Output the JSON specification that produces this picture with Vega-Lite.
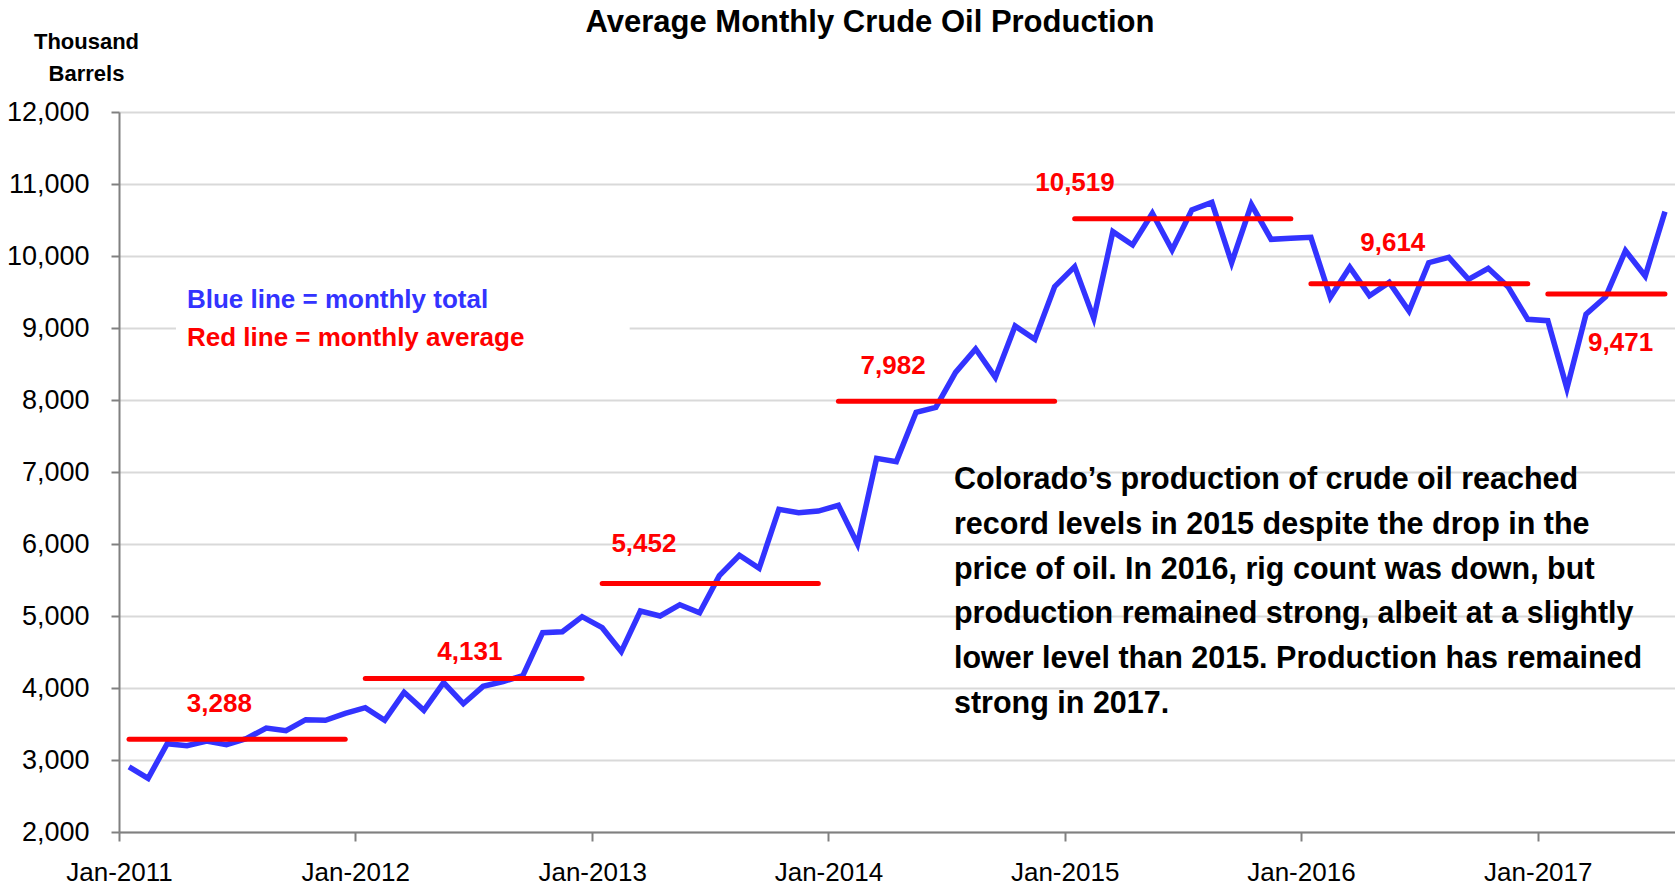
{
  "$schema": "https://vega.github.io/schema/vega-lite/v6.json",
  "autosize": {"type": "none"},
  "width": 1556,
  "height": 720,
  "padding": {"left": 119, "top": 112, "right": 0, "bottom": 55},
  "background": "white",
  "config": {
    "view": {"stroke": null},
    "font": "Liberation Sans",
    "axis": {"labelFont": "Liberation Sans", "titleFont": "Liberation Sans"}
  },
  "title": {
    "text": "Average Monthly Crude Oil Production",
    "font": "Liberation Sans",
    "fontSize": 31,
    "fontWeight": "bold",
    "color": "black",
    "anchor": "middle",
    "frame": "group",
    "dx": -27,
    "baseline": "alphabetic",
    "offset": -33
  },
  "datasets": {
    "monthly": [
      {"month": "2011-01", "year": 2011, "total": 2903, "avg": 3288},
      {"month": "2011-02", "year": 2011, "total": 2745, "avg": 3288},
      {"month": "2011-03", "year": 2011, "total": 3227, "avg": 3288},
      {"month": "2011-04", "year": 2011, "total": 3199, "avg": 3288},
      {"month": "2011-05", "year": 2011, "total": 3264, "avg": 3288},
      {"month": "2011-06", "year": 2011, "total": 3213, "avg": 3288},
      {"month": "2011-07", "year": 2011, "total": 3296, "avg": 3288},
      {"month": "2011-08", "year": 2011, "total": 3444, "avg": 3288},
      {"month": "2011-09", "year": 2011, "total": 3407, "avg": 3288},
      {"month": "2011-10", "year": 2011, "total": 3560, "avg": 3288},
      {"month": "2011-11", "year": 2011, "total": 3551, "avg": 3288},
      {"month": "2011-12", "year": 2011, "total": 3648, "avg": 3288},
      {"month": "2012-01", "year": 2012, "total": 3727, "avg": 4131},
      {"month": "2012-02", "year": 2012, "total": 3551, "avg": 4131},
      {"month": "2012-03", "year": 2012, "total": 3940, "avg": 4131},
      {"month": "2012-04", "year": 2012, "total": 3690, "avg": 4131},
      {"month": "2012-05", "year": 2012, "total": 4074, "avg": 4131},
      {"month": "2012-06", "year": 2012, "total": 3782, "avg": 4131},
      {"month": "2012-07", "year": 2012, "total": 4023, "avg": 4131},
      {"month": "2012-08", "year": 2012, "total": 4090, "avg": 4131},
      {"month": "2012-09", "year": 2012, "total": 4173, "avg": 4131},
      {"month": "2012-10", "year": 2012, "total": 4769, "avg": 4131},
      {"month": "2012-11", "year": 2012, "total": 4782, "avg": 4131},
      {"month": "2012-12", "year": 2012, "total": 4991, "avg": 4131},
      {"month": "2013-01", "year": 2013, "total": 4838, "avg": 5452},
      {"month": "2013-02", "year": 2013, "total": 4505, "avg": 5452},
      {"month": "2013-03", "year": 2013, "total": 5069, "avg": 5452},
      {"month": "2013-04", "year": 2013, "total": 5000, "avg": 5452},
      {"month": "2013-05", "year": 2013, "total": 5157, "avg": 5452},
      {"month": "2013-06", "year": 2013, "total": 5046, "avg": 5452},
      {"month": "2013-07", "year": 2013, "total": 5560, "avg": 5452},
      {"month": "2013-08", "year": 2013, "total": 5843, "avg": 5452},
      {"month": "2013-09", "year": 2013, "total": 5662, "avg": 5452},
      {"month": "2013-10", "year": 2013, "total": 6481, "avg": 5452},
      {"month": "2013-11", "year": 2013, "total": 6435, "avg": 5452},
      {"month": "2013-12", "year": 2013, "total": 6458, "avg": 5452},
      {"month": "2014-01", "year": 2014, "total": 6537, "avg": 7982},
      {"month": "2014-02", "year": 2014, "total": 6000, "avg": 7982},
      {"month": "2014-03", "year": 2014, "total": 7190, "avg": 7982},
      {"month": "2014-04", "year": 2014, "total": 7144, "avg": 7982},
      {"month": "2014-05", "year": 2014, "total": 7829, "avg": 7982},
      {"month": "2014-06", "year": 2014, "total": 7898, "avg": 7982},
      {"month": "2014-07", "year": 2014, "total": 8384, "avg": 7982},
      {"month": "2014-08", "year": 2014, "total": 8708, "avg": 7982},
      {"month": "2014-09", "year": 2014, "total": 8315, "avg": 7982},
      {"month": "2014-10", "year": 2014, "total": 9028, "avg": 7982},
      {"month": "2014-11", "year": 2014, "total": 8843, "avg": 7982},
      {"month": "2014-12", "year": 2014, "total": 9574, "avg": 7982},
      {"month": "2015-01", "year": 2015, "total": 9852, "avg": 10519},
      {"month": "2015-02", "year": 2015, "total": 9134, "avg": 10519},
      {"month": "2015-03", "year": 2015, "total": 10338, "avg": 10519},
      {"month": "2015-04", "year": 2015, "total": 10153, "avg": 10519},
      {"month": "2015-05", "year": 2015, "total": 10593, "avg": 10519},
      {"month": "2015-06", "year": 2015, "total": 10083, "avg": 10519},
      {"month": "2015-07", "year": 2015, "total": 10639, "avg": 10519},
      {"month": "2015-08", "year": 2015, "total": 10745, "avg": 10519},
      {"month": "2015-09", "year": 2015, "total": 9907, "avg": 10519},
      {"month": "2015-10", "year": 2015, "total": 10715, "avg": 10519},
      {"month": "2015-11", "year": 2015, "total": 10231, "avg": 10519},
      {"month": "2015-12", "year": 2015, "total": 10245, "avg": 10519},
      {"month": "2016-01", "year": 2016, "total": 10259, "avg": 9614},
      {"month": "2016-02", "year": 2016, "total": 9426, "avg": 9614},
      {"month": "2016-03", "year": 2016, "total": 9843, "avg": 9614},
      {"month": "2016-04", "year": 2016, "total": 9449, "avg": 9614},
      {"month": "2016-05", "year": 2016, "total": 9634, "avg": 9614},
      {"month": "2016-06", "year": 2016, "total": 9236, "avg": 9614},
      {"month": "2016-07", "year": 2016, "total": 9907, "avg": 9614},
      {"month": "2016-08", "year": 2016, "total": 9981, "avg": 9614},
      {"month": "2016-09", "year": 2016, "total": 9676, "avg": 9614},
      {"month": "2016-10", "year": 2016, "total": 9829, "avg": 9614},
      {"month": "2016-11", "year": 2016, "total": 9574, "avg": 9614},
      {"month": "2016-12", "year": 2016, "total": 9120, "avg": 9614},
      {"month": "2017-01", "year": 2017, "total": 9102, "avg": 9471},
      {"month": "2017-02", "year": 2017, "total": 8162, "avg": 9471},
      {"month": "2017-03", "year": 2017, "total": 9190, "avg": 9471},
      {"month": "2017-04", "year": 2017, "total": 9435, "avg": 9471},
      {"month": "2017-05", "year": 2017, "total": 10074, "avg": 9471},
      {"month": "2017-06", "year": 2017, "total": 9722, "avg": 9471},
      {"month": "2017-07", "year": 2017, "total": 10616, "avg": 9471}
    ],
    "labels": [
      {"date": "2011-06-05", "value": 3778, "label": "3,288"},
      {"date": "2012-06-26", "value": 4500, "label": "4,131"},
      {"date": "2013-03-22", "value": 6000, "label": "5,452"},
      {"date": "2014-04-11", "value": 8472, "label": "7,982"},
      {"date": "2015-01-17", "value": 11014, "label": "10,519"},
      {"date": "2016-05-22", "value": 10181, "label": "9,614"},
      {"date": "2017-05-09", "value": 8792, "label": "9,471"}
    ],
    "notes": [
      {"date": "2011-04-16", "value": 9389, "note": "Blue line = monthly total", "series": "total"},
      {"date": "2011-04-16", "value": 8861, "note": "Red line = monthly average", "series": "average"}
    ],
    "notebox": [
      {"start": "2011-03-30", "end": "2013-02-28", "low": 8950, "high": 9050}
    ],
    "comment": [
      {"date": "2014-07-14", "value": 6889}
    ]
  },
  "layer": [
    {
      "data": {"name": "notebox"},
      "mark": {"type": "rect", "color": "white"},
      "encoding": {
        "x": {
          "field": "start", "type": "temporal",
          "scale": {"type": "utc", "domain": [{"year": 2011, "month": 1, "date": 1, "utc": true}, {"year": 2017, "month": 8, "date": 1, "utc": true}]},
          "axis": {
            "title": null,
            "values": [
              {"year": 2011, "month": 1, "date": 1, "utc": true},
              {"year": 2012, "month": 1, "date": 1, "utc": true},
              {"year": 2013, "month": 1, "date": 1, "utc": true},
              {"year": 2014, "month": 1, "date": 1, "utc": true},
              {"year": 2015, "month": 1, "date": 1, "utc": true},
              {"year": 2016, "month": 1, "date": 1, "utc": true},
              {"year": 2017, "month": 1, "date": 1, "utc": true}
            ],
            "format": "%b-%Y",
            "grid": false,
            "domainColor": "#808080",
            "domainWidth": 2,
            "tickColor": "#808080",
            "tickWidth": 2,
            "tickSize": 9,
            "labelFontSize": 26,
            "labelColor": "black",
            "labelPadding": 18,
            "labelFlush": false,
            "labelOverlap": false
          }
        },
        "x2": {"field": "end"},
        "y": {
          "field": "low", "type": "quantitative",
          "scale": {"domain": [2000, 12000], "nice": false, "zero": false},
          "axis": {
            "title": ["Thousand", "Barrels"],
            "titleAngle": 0,
            "titleFontSize": 22,
            "titleFontWeight": "bold",
            "titleColor": "black",
            "titleAlign": "center",
            "titleBaseline": "middle",
            "titleLineHeight": 32,
            "titleX": -33,
            "titleY": -71,
            "values": [2000, 3000, 4000, 5000, 6000, 7000, 8000, 9000, 10000, 11000, 12000],
            "format": ",d",
            "grid": true,
            "gridColor": "#D9D9D9",
            "gridWidth": 2,
            "domainColor": "#808080",
            "domainWidth": 2,
            "tickColor": "#808080",
            "tickWidth": 2,
            "tickSize": 8,
            "labelFontSize": 27,
            "labelColor": "black",
            "labelPadding": 22
          }
        },
        "y2": {"field": "high"}
      }
    },
    {
      "data": {"name": "monthly"},
      "mark": {"type": "line", "color": "#3333FF", "strokeWidth": 5.5, "strokeJoin": "miter"},
      "encoding": {
        "x": {"field": "month", "timeUnit": "utcyearmonth", "type": "temporal", "bandPosition": 0.5},
        "y": {"field": "total", "type": "quantitative"}
      }
    },
    {
      "data": {"name": "monthly"},
      "mark": {"type": "line", "color": "#FF0000", "strokeWidth": 5, "strokeCap": "round"},
      "encoding": {
        "x": {"field": "month", "timeUnit": "utcyearmonth", "type": "temporal", "bandPosition": 0.5},
        "y": {"field": "avg", "type": "quantitative"},
        "detail": {"field": "year", "type": "nominal"}
      }
    },
    {
      "data": {"name": "labels"},
      "mark": {"type": "text", "color": "#FF0000", "fontSize": 26, "fontWeight": "bold", "align": "center", "baseline": "middle"},
      "encoding": {
        "x": {"field": "date", "type": "temporal"},
        "y": {"field": "value", "type": "quantitative"},
        "text": {"field": "label", "type": "nominal"}
      }
    },
    {
      "data": {"name": "notes"},
      "mark": {"type": "text", "fontSize": 26, "fontWeight": "bold", "align": "left", "baseline": "middle"},
      "encoding": {
        "x": {"field": "date", "type": "temporal"},
        "y": {"field": "value", "type": "quantitative"},
        "text": {"field": "note", "type": "nominal"},
        "color": {"field": "series", "type": "nominal", "scale": {"domain": ["total", "average"], "range": ["#3333FF", "#FF0000"]}, "legend": null}
      }
    },
    {
      "data": {"name": "comment"},
      "mark": {
        "type": "text", "fontSize": 30.5, "fontWeight": "bold", "align": "left", "baseline": "middle", "lineHeight": 44.8, "color": "black",
        "text": ["Colorado’s production of crude oil reached", "record levels in 2015 despite the drop in the", "price of oil. In 2016, rig count was down, but", "production remained strong, albeit at a slightly", "lower level than 2015. Production has remained", "strong in 2017."]
      },
      "encoding": {
        "x": {"field": "date", "type": "temporal"},
        "y": {"field": "value", "type": "quantitative"}
      }
    }
  ]
}
